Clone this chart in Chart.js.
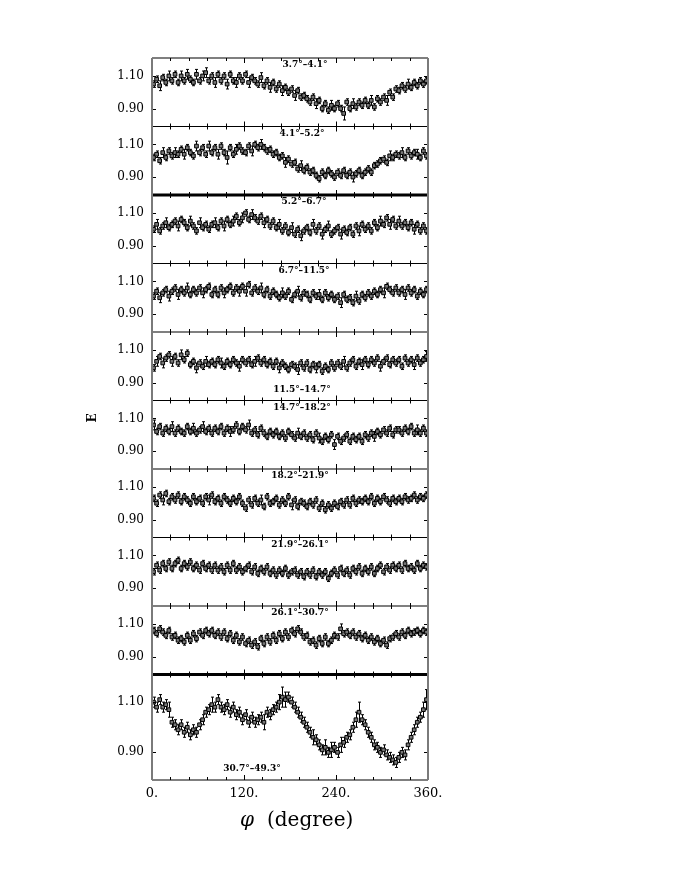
<!DOCTYPE html>
<html>
<head>
<meta charset="utf-8">
<script src="https://cdn.jsdelivr.net/npm/chart.js@4.4.1/dist/chart.umd.min.js"></script>
<style>
  html, body { margin: 0; padding: 0; background: #fff; }
  #wrap { width: 692px; height: 896px; }
</style>
</head>
<body>
<div id="wrap"><canvas id="phiChart" width="692" height="896"></canvas></div>
<script>
// bin centres in phi (degree)
const phi = [
  2,6,10,14,18,22,26,30,34,38,
  42,46,50,54,58,62,66,70,74,78,
  82,86,90,94,98,102,106,110,114,118,
  122,126,130,134,138,142,146,150,154,158,
  162,166,170,174,178,182,186,190,194,198,
  202,206,210,214,218,222,226,230,234,238,
  242,246,250,254,258,262,266,270,274,278,
  282,286,290,294,298,302,306,310,314,318,
  322,326,330,334,338,342,346,350,354,358
];

const panelLabels = ['3.7°–4.1°','4.1°–5.2°','5.2°–6.7°','6.7°–11.5°','11.5°–14.7°',
                     '14.7°–18.2°','18.2°–21.9°','21.9°–26.1°','26.1°–30.7°','30.7°–49.3°'];

const yTicks = [0.90, 1.10];
const xTicks = [0, 120, 240, 360];
const xTickLabels = ['0.', '120.', '240.', '360.'];

// E per bin, one array per theta range
const E1 = [
  1.05,1.08,1.04,1.09,1.06,1.10,1.07,1.11,1.06,1.10,
  1.07,1.11,1.08,1.06,1.11,1.07,1.10,1.12,1.07,1.10,
  1.06,1.11,1.07,1.10,1.05,1.11,1.07,1.06,1.10,1.07,
  1.11,1.06,1.09,1.07,1.05,1.09,1.04,1.07,1.03,1.06,
  1.02,1.05,1.01,1.03,1.00,1.02,0.98,1.01,0.97,0.98,
  0.96,0.94,0.97,0.93,0.95,0.90,0.93,0.89,0.92,0.90,
  0.93,0.90,0.87,0.94,0.90,0.93,0.91,0.94,0.92,0.95,
  0.92,0.95,0.91,0.96,0.94,0.97,0.95,1.00,0.97,1.02,
  1.01,1.04,1.02,1.05,1.03,1.06,1.04,1.07,1.05,1.07
];
const E2 = [
  1.02,1.04,1.00,1.05,1.02,1.06,1.03,1.05,1.04,1.07,
  1.04,1.08,1.05,1.03,1.09,1.05,1.08,1.04,1.09,1.05,
  1.08,1.04,1.09,1.05,1.02,1.08,1.04,1.07,1.09,1.06,
  1.05,1.09,1.06,1.10,1.08,1.10,1.08,1.06,1.07,1.04,
  1.05,1.02,1.03,0.99,1.01,0.98,0.99,0.95,0.97,0.94,
  0.96,0.93,0.94,0.91,0.89,0.93,0.91,0.94,0.92,0.90,
  0.93,0.91,0.94,0.91,0.93,0.90,0.92,0.94,0.91,0.93,
  0.95,0.93,0.97,0.98,1.00,1.01,0.99,1.03,1.02,1.04,
  1.03,1.05,1.02,1.06,1.03,1.05,1.04,1.02,1.06,1.03
];
const E3 = [
  1.00,1.03,0.99,1.02,1.04,1.01,1.03,1.05,1.02,1.06,
  1.04,1.01,1.05,1.02,0.99,1.04,1.01,1.03,1.00,1.03,
  1.04,1.01,1.05,1.02,1.06,1.03,1.05,1.08,1.04,1.07,
  1.10,1.06,1.09,1.07,1.05,1.08,1.04,1.06,1.02,1.05,
  1.01,1.03,0.99,1.02,0.98,1.01,0.97,1.00,0.96,0.99,
  1.01,0.98,1.03,0.99,1.02,0.97,1.00,1.02,0.97,0.99,
  1.01,0.97,1.00,0.98,1.01,0.97,1.02,0.99,1.03,1.00,
  1.02,0.99,1.04,1.01,1.05,1.03,1.07,1.03,1.06,1.02,
  1.05,1.02,1.04,1.01,1.04,1.00,1.03,0.99,1.02,0.99
];
const E4 = [
  1.01,1.04,1.00,1.03,1.05,1.01,1.04,1.06,1.02,1.05,
  1.03,1.06,1.02,1.05,1.03,1.06,1.03,1.05,1.07,1.02,
  1.05,1.02,1.06,1.03,1.05,1.07,1.03,1.06,1.04,1.07,
  1.04,1.08,1.03,1.06,1.04,1.06,1.02,1.05,1.01,1.04,
  1.02,1.00,1.03,1.01,1.04,0.99,1.02,1.04,1.00,1.03,
  1.02,0.99,1.03,1.01,1.02,0.99,1.03,1.00,1.02,0.99,
  1.01,0.97,1.02,0.99,1.00,0.97,1.01,0.98,1.02,1.00,
  1.03,1.01,1.04,1.02,1.05,1.03,1.07,1.05,1.03,1.06,
  1.03,1.05,1.02,1.06,1.03,1.05,1.01,1.04,1.02,1.05
];
const E5 = [
  0.99,1.03,1.06,1.02,1.05,1.07,1.03,1.06,1.02,1.07,
  1.04,1.08,1.01,1.03,0.99,1.02,1.00,1.03,1.01,1.03,
  1.01,1.04,1.02,1.00,1.03,1.01,1.04,1.02,1.00,1.04,
  1.02,1.04,1.01,1.03,1.05,1.02,1.04,1.01,1.03,1.00,
  1.03,0.99,1.02,1.00,0.98,1.01,1.00,0.98,1.02,0.99,
  1.02,0.98,1.01,0.99,1.01,0.97,1.00,0.98,1.02,0.99,
  1.02,1.00,1.03,0.99,1.02,1.04,1.00,1.03,1.01,1.04,
  1.01,1.04,1.02,1.05,1.00,1.03,1.05,1.01,1.04,1.02,
  1.04,1.00,1.05,1.02,1.04,1.01,1.05,1.02,1.04,1.06
];
const E6 = [
  1.06,1.02,1.05,1.01,1.04,1.02,1.05,1.01,1.04,1.02,
  1.01,1.05,1.02,1.04,1.01,1.03,1.05,1.02,1.04,1.01,
  1.04,1.02,1.05,1.01,1.04,1.02,1.03,1.06,1.02,1.05,
  1.03,1.06,1.01,1.03,1.00,1.04,1.01,0.99,1.02,1.00,
  1.02,0.99,1.01,0.98,1.02,1.00,0.98,1.01,0.99,1.01,
  0.98,1.00,0.97,1.01,0.98,0.96,0.99,0.97,1.00,0.94,
  0.99,0.96,0.98,1.00,0.96,0.99,0.97,0.99,0.96,1.00,
  0.98,1.01,0.99,1.02,1.00,1.03,1.01,1.04,1.00,1.03,
  1.03,1.01,1.04,1.02,1.05,1.01,1.03,1.01,1.04,1.01
];
const E7 = [
  1.03,1.00,1.05,1.02,1.06,1.01,1.04,1.02,1.05,1.01,
  1.04,1.02,1.00,1.04,1.01,1.03,1.00,1.04,1.02,1.05,
  1.01,1.03,1.00,1.04,1.02,1.00,1.03,1.01,1.04,1.00,
  0.97,1.02,0.99,1.03,1.00,1.02,0.98,1.04,1.00,1.01,
  1.03,0.99,1.02,1.00,1.04,0.99,1.02,0.98,1.01,1.00,
  0.98,1.01,0.99,1.02,0.97,1.00,0.96,0.99,0.97,1.00,
  0.98,1.01,0.99,1.02,0.99,1.03,1.00,1.02,1.01,1.03,
  1.01,1.04,1.00,1.03,1.01,1.04,1.02,1.00,1.03,1.01,
  1.03,1.01,1.04,1.02,1.03,1.05,1.02,1.04,1.03,1.05
];
const E8 = [
  1.00,1.04,1.01,1.05,1.02,1.06,1.02,1.05,1.07,1.02,
  1.05,1.03,1.06,1.02,1.04,1.01,1.05,1.02,1.04,1.01,
  1.04,1.01,1.03,1.00,1.04,1.01,1.05,1.01,1.03,1.00,
  1.02,1.04,1.00,1.03,0.99,1.02,1.00,1.03,0.99,1.01,
  0.98,1.01,0.99,1.02,0.98,1.00,1.01,0.98,1.00,0.97,
  1.00,0.98,1.01,0.97,1.00,0.98,1.00,0.96,0.99,1.01,
  0.98,1.02,0.99,1.01,0.98,1.02,1.00,1.03,0.99,1.02,
  1.00,1.03,0.99,1.02,1.04,1.00,1.03,1.01,1.04,1.02,
  1.04,1.01,1.05,1.02,1.03,1.01,1.05,1.02,1.04,1.03
];
const E9 = [
  1.06,1.04,1.07,1.05,1.03,1.06,1.02,1.03,1.00,1.01,
  0.99,1.03,1.00,1.04,1.01,1.05,1.03,1.06,1.04,1.06,
  1.03,1.05,1.02,1.05,1.01,1.04,1.00,1.03,0.99,1.02,
  0.98,1.00,0.97,0.99,0.96,1.01,0.98,1.02,0.99,1.03,
  1.00,1.04,1.01,1.05,1.02,1.06,1.04,1.07,1.05,1.02,
  1.03,0.99,1.00,0.97,1.01,0.98,1.02,0.98,1.00,1.03,
  1.02,1.07,1.04,1.05,1.03,1.05,1.02,1.04,1.01,1.03,
  1.00,1.02,0.99,1.01,0.98,1.00,0.97,1.01,1.02,1.04,
  1.02,1.05,1.03,1.06,1.04,1.05,1.06,1.04,1.06,1.05
];
const E10 = [
  1.10,1.08,1.11,1.08,1.09,1.07,1.02,1.01,0.99,1.01,
  0.98,1.00,0.97,0.99,0.98,1.01,1.03,1.06,1.07,1.09,
  1.08,1.11,1.08,1.07,1.09,1.06,1.08,1.05,1.06,1.03,
  1.05,1.02,1.04,1.02,1.03,1.04,1.02,1.06,1.05,1.07,
  1.08,1.10,1.12,1.11,1.12,1.10,1.08,1.06,1.04,1.02,
  1.00,0.98,0.96,0.95,0.93,0.91,0.92,0.90,0.91,0.92,
  0.90,0.93,0.94,0.96,0.97,1.00,1.03,1.06,1.03,1.01,
  0.98,0.96,0.93,0.92,0.90,0.91,0.89,0.88,0.87,0.86,
  0.88,0.90,0.89,0.93,0.96,0.99,1.02,1.04,1.07,1.11
];

// statistical errors per bin
const dE1 = [
  0.02,0.02,0.03,0.02,0.02,0.03,0.02,0.02,0.02,0.03,
  0.02,0.03,0.02,0.02,0.03,0.02,0.03,0.03,0.02,0.02,
  0.03,0.02,0.02,0.02,0.03,0.02,0.02,0.03,0.02,0.02,
  0.02,0.03,0.02,0.02,0.02,0.03,0.02,0.02,0.03,0.02,
  0.02,0.02,0.03,0.02,0.02,0.02,0.03,0.02,0.02,0.02,
  0.02,0.02,0.02,0.03,0.02,0.02,0.02,0.02,0.03,0.02,
  0.02,0.02,0.04,0.02,0.02,0.03,0.02,0.02,0.02,0.02,
  0.02,0.03,0.02,0.02,0.02,0.02,0.03,0.02,0.02,0.02,
  0.02,0.02,0.02,0.03,0.02,0.02,0.02,0.02,0.02,0.02
];
const dE2 = [
  0.02,0.02,0.02,0.03,0.02,0.02,0.02,0.03,0.02,0.02,
  0.03,0.02,0.02,0.02,0.03,0.02,0.02,0.02,0.03,0.02,
  0.02,0.03,0.02,0.02,0.04,0.02,0.02,0.03,0.02,0.02,
  0.02,0.02,0.03,0.02,0.02,0.03,0.02,0.02,0.02,0.02,
  0.02,0.02,0.02,0.03,0.02,0.02,0.02,0.02,0.03,0.02,
  0.02,0.02,0.02,0.02,0.02,0.02,0.02,0.02,0.02,0.02,
  0.02,0.02,0.02,0.02,0.02,0.03,0.02,0.02,0.02,0.02,
  0.02,0.02,0.02,0.02,0.02,0.02,0.02,0.03,0.02,0.02,
  0.02,0.03,0.02,0.02,0.02,0.02,0.03,0.02,0.02,0.02
];
const dE3 = [
  0.02,0.03,0.02,0.02,0.03,0.02,0.02,0.02,0.03,0.02,
  0.02,0.02,0.03,0.02,0.02,0.03,0.02,0.02,0.02,0.02,
  0.03,0.02,0.02,0.03,0.02,0.02,0.03,0.02,0.02,0.03,
  0.02,0.02,0.03,0.02,0.02,0.02,0.03,0.02,0.02,0.02,
  0.02,0.03,0.02,0.02,0.02,0.03,0.02,0.02,0.03,0.02,
  0.02,0.02,0.03,0.02,0.02,0.03,0.02,0.03,0.02,0.02,
  0.02,0.03,0.02,0.02,0.02,0.02,0.02,0.03,0.02,0.02,
  0.02,0.02,0.02,0.02,0.03,0.02,0.02,0.03,0.02,0.02,
  0.03,0.02,0.02,0.02,0.02,0.03,0.02,0.02,0.02,0.02
];
const dE4 = [
  0.02,0.02,0.03,0.02,0.02,0.03,0.02,0.02,0.03,0.02,
  0.02,0.03,0.02,0.02,0.02,0.02,0.03,0.02,0.02,0.02,
  0.02,0.02,0.02,0.03,0.02,0.02,0.02,0.02,0.03,0.02,
  0.03,0.02,0.02,0.02,0.02,0.03,0.02,0.02,0.02,0.02,
  0.02,0.02,0.03,0.02,0.02,0.02,0.02,0.03,0.02,0.02,
  0.02,0.02,0.02,0.02,0.03,0.02,0.02,0.02,0.02,0.02,
  0.02,0.03,0.02,0.02,0.02,0.02,0.03,0.02,0.02,0.02,
  0.02,0.02,0.02,0.02,0.02,0.03,0.02,0.02,0.02,0.02,
  0.02,0.02,0.03,0.02,0.02,0.02,0.02,0.02,0.02,0.02
];
const dE5 = [
  0.02,0.03,0.02,0.03,0.02,0.02,0.03,0.02,0.02,0.03,
  0.02,0.02,0.02,0.02,0.03,0.02,0.02,0.03,0.02,0.02,
  0.02,0.02,0.03,0.02,0.02,0.02,0.02,0.02,0.03,0.02,
  0.02,0.02,0.02,0.03,0.02,0.02,0.02,0.02,0.02,0.02,
  0.02,0.03,0.02,0.02,0.02,0.02,0.02,0.03,0.02,0.02,
  0.02,0.02,0.02,0.03,0.02,0.02,0.02,0.02,0.02,0.02,
  0.02,0.02,0.03,0.02,0.02,0.02,0.02,0.02,0.03,0.02,
  0.02,0.02,0.02,0.02,0.03,0.02,0.02,0.02,0.02,0.02,
  0.02,0.02,0.02,0.02,0.02,0.03,0.02,0.02,0.02,0.03
];
const dE6 = [
  0.03,0.02,0.02,0.02,0.02,0.02,0.03,0.02,0.02,0.02,
  0.02,0.02,0.02,0.03,0.02,0.02,0.03,0.02,0.02,0.02,
  0.02,0.02,0.02,0.02,0.02,0.03,0.02,0.02,0.02,0.02,
  0.02,0.03,0.02,0.02,0.02,0.02,0.02,0.02,0.02,0.02,
  0.02,0.02,0.02,0.02,0.02,0.02,0.02,0.03,0.02,0.02,
  0.02,0.02,0.02,0.02,0.03,0.02,0.02,0.02,0.02,0.03,
  0.02,0.02,0.02,0.02,0.02,0.02,0.02,0.02,0.02,0.02,
  0.02,0.02,0.03,0.02,0.02,0.02,0.02,0.02,0.02,0.02,
  0.02,0.02,0.02,0.02,0.02,0.02,0.03,0.02,0.02,0.02
];
const dE7 = [
  0.02,0.02,0.02,0.03,0.02,0.02,0.02,0.02,0.02,0.02,
  0.02,0.02,0.02,0.02,0.02,0.02,0.02,0.02,0.03,0.02,
  0.02,0.02,0.02,0.02,0.02,0.02,0.02,0.02,0.02,0.02,
  0.02,0.02,0.02,0.02,0.02,0.03,0.02,0.02,0.02,0.02,
  0.02,0.02,0.02,0.02,0.02,0.03,0.02,0.02,0.02,0.02,
  0.02,0.02,0.02,0.02,0.02,0.02,0.02,0.02,0.02,0.02,
  0.02,0.02,0.02,0.02,0.02,0.02,0.02,0.02,0.02,0.02,
  0.02,0.02,0.02,0.02,0.02,0.02,0.02,0.02,0.02,0.02,
  0.02,0.02,0.02,0.02,0.02,0.02,0.02,0.02,0.02,0.02
];
const dE8 = [
  0.02,0.02,0.02,0.02,0.02,0.02,0.02,0.02,0.02,0.02,
  0.02,0.02,0.02,0.02,0.02,0.02,0.02,0.02,0.02,0.02,
  0.02,0.02,0.02,0.02,0.02,0.02,0.02,0.02,0.02,0.02,
  0.02,0.02,0.02,0.02,0.02,0.02,0.02,0.02,0.02,0.02,
  0.02,0.02,0.02,0.02,0.02,0.02,0.02,0.02,0.02,0.02,
  0.02,0.02,0.02,0.02,0.02,0.02,0.02,0.02,0.02,0.02,
  0.02,0.02,0.02,0.02,0.02,0.02,0.02,0.02,0.02,0.02,
  0.02,0.02,0.02,0.02,0.02,0.02,0.02,0.02,0.02,0.02,
  0.02,0.02,0.02,0.02,0.02,0.02,0.02,0.02,0.02,0.02
];
const dE9 = [
  0.02,0.02,0.02,0.02,0.02,0.02,0.02,0.02,0.02,0.02,
  0.02,0.02,0.02,0.02,0.02,0.02,0.02,0.02,0.02,0.02,
  0.02,0.02,0.02,0.02,0.02,0.02,0.02,0.02,0.02,0.02,
  0.02,0.02,0.02,0.02,0.02,0.02,0.02,0.02,0.02,0.02,
  0.02,0.02,0.02,0.02,0.02,0.02,0.02,0.02,0.02,0.02,
  0.02,0.02,0.02,0.02,0.02,0.02,0.02,0.02,0.02,0.02,
  0.02,0.03,0.02,0.02,0.02,0.02,0.02,0.02,0.02,0.02,
  0.02,0.02,0.02,0.02,0.02,0.02,0.02,0.02,0.02,0.02,
  0.02,0.02,0.02,0.02,0.02,0.02,0.02,0.02,0.02,0.02
];
const dE10 = [
  0.02,0.02,0.02,0.02,0.02,0.03,0.02,0.02,0.02,0.02,
  0.02,0.02,0.02,0.02,0.02,0.02,0.02,0.02,0.02,0.03,
  0.02,0.02,0.02,0.02,0.02,0.02,0.02,0.02,0.02,0.02,
  0.02,0.02,0.02,0.02,0.02,0.02,0.03,0.02,0.02,0.02,
  0.02,0.03,0.04,0.03,0.02,0.02,0.02,0.02,0.02,0.02,
  0.02,0.02,0.03,0.02,0.02,0.02,0.03,0.02,0.03,0.02,
  0.02,0.03,0.02,0.02,0.02,0.02,0.03,0.04,0.02,0.02,
  0.02,0.02,0.02,0.02,0.02,0.02,0.02,0.02,0.02,0.02,
  0.02,0.02,0.02,0.02,0.02,0.02,0.02,0.02,0.03,0.04
];

const panelE  = [E1, E2, E3, E4, E5, E6, E7, E8, E9, E10];
const panelDE = [dE1, dE2, dE3, dE4, dE5, dE6, dE7, dE8, dE9, dE10];

const yMin = 0.79, yMax = 1.21;
const serif = '"DejaVu Serif", "Liberation Serif", serif';

// where each panel's range label sits: [x centre, 'top' | 'bottom']
const labelPos = [[305,'top'],[302,'top'],[304,'top'],[304,'top'],[302,'bottom'],
                  [302,'top'],[300,'top'],[300,'top'],[300,'top'],[252,'bottom']];

const datasets = panelE.map((vals, k) => ({
  label: panelLabels[k],
  yAxisID: 'y' + k,
  xAxisID: 'x',
  data: vals.map((v, i) => ({ x: phi[i], y: v })),
  errors: panelDE[k],
  showLine: false,
  pointStyle: 'rect',
  pointRadius: 2.6,
  borderWidth: 1,
  borderColor: '#000',
  backgroundColor: '#777'
}));

function yAxis(k) {
  return {
    type: 'linear',
    position: 'left',
    stack: 'panels',
    stackWeight: k === 9 ? 1.54 : 1,
    weight: 10 - k,
    min: yMin,
    max: yMax,
    grid: { display: false, drawTicks: false },
    border: { display: false },
    afterBuildTicks: s => { s.ticks = yTicks.map(v => ({ value: v })); },
    afterFit: s => { s.width = 152; },
    ticks: {
      padding: 8,
      color: '#000',
      font: { family: serif, size: 12 },
      callback: v => v.toFixed(2)
    }
  };
}

const scales = {
  x: {
    type: 'linear',
    position: 'bottom',
    min: 0,
    max: 360,
    grid: { display: false, drawTicks: false },
    border: { display: false },
    afterBuildTicks: s => { s.ticks = xTicks.map(v => ({ value: v })); },
    afterFit: s => { s.height = 40; },
    ticks: {
      padding: 6,
      autoSkip: false,
      maxRotation: 0,
      color: '#000',
      font: { family: serif, size: 13 },
      callback: v => xTickLabels[xTicks.indexOf(v)]
    }
  }
};
for (let k = 0; k < 10; k++) scales['y' + k] = yAxis(k);

// error bars, panel frames, tick marks and texts
const panelDecor = {
  id: 'panelDecor',
  beforeDatasetsDraw(chart) {
    const ctx = chart.ctx;
    ctx.save();
    ctx.strokeStyle = '#000';
    ctx.lineWidth = 1;
    chart.data.datasets.forEach((ds, di) => {
      const meta = chart.getDatasetMeta(di);
      const ys = chart.scales[ds.yAxisID];
      ctx.beginPath();
      meta.data.forEach((pt, i) => {
        const v = ds.data[i].y, e = ds.errors[i];
        const t = ys.getPixelForValue(v + e), b = ys.getPixelForValue(v - e);
        const x = Math.round(pt.x) + 0.5;
        ctx.moveTo(x, t); ctx.lineTo(x, b);
        ctx.moveTo(x - 1.5, t); ctx.lineTo(x + 1.5, t);
        ctx.moveTo(x - 1.5, b); ctx.lineTo(x + 1.5, b);
      });
      ctx.stroke();
    });
    ctx.restore();
  },
  afterDatasetsDraw(chart) {
    const ctx = chart.ctx, xs = chart.scales.x, area = chart.chartArea;
    const L = area.left, R = area.right;
    ctx.save();

    for (let k = 0; k < 10; k++) {
      const ys = chart.scales['y' + k];
      // horizontal boundary on top of each panel
      ctx.strokeStyle = '#000';
      ctx.lineWidth = (k === 2 || k === 9) ? 3 : 1.2;
      ctx.beginPath();
      ctx.moveTo(L, ys.top); ctx.lineTo(R, ys.top);
      ctx.stroke();

      // inward ticks on left and right at the labelled E values
      ctx.lineWidth = 1;
      ctx.beginPath();
      yTicks.forEach(v => {
        const y = Math.round(ys.getPixelForValue(v)) + 0.5;
        ctx.moveTo(L, y); ctx.lineTo(L + 4, y);
        ctx.moveTo(R, y); ctx.lineTo(R - 4, y);
      });
      // phi ticks along the top and bottom of the panel
      for (let p = 0; p <= 360; p += 24) {
        const x = Math.round(xs.getPixelForValue(p)) + 0.5;
        const len = p % 120 === 0 ? 5 : 3;
        ctx.moveTo(x, ys.top); ctx.lineTo(x, ys.top + len);
        ctx.moveTo(x, ys.bottom); ctx.lineTo(x, ys.bottom - len);
      }
      ctx.stroke();

      // range label
      const [lx, where] = labelPos[k];
      ctx.fillStyle = '#000';
      ctx.font = 'bold 9px ' + serif;
      ctx.textAlign = 'center';
      ctx.textBaseline = 'middle';
      const ly = where === 'top' ? ys.top + 7 : ys.bottom - 11;
      ctx.fillText(panelLabels[k], lx, ly);
    }

    // bottom line
    ctx.strokeStyle = '#000';
    ctx.lineWidth = 1.2;
    ctx.beginPath();
    ctx.moveTo(L, area.bottom); ctx.lineTo(R, area.bottom);
    ctx.stroke();

    // left and right frame
    ctx.strokeStyle = '#7a7a7a';
    ctx.lineWidth = 2;
    ctx.beginPath();
    ctx.moveTo(L, area.top); ctx.lineTo(L, area.bottom);
    ctx.moveTo(R, area.top); ctx.lineTo(R, area.bottom);
    ctx.stroke();

    // axis titles
    ctx.fillStyle = '#000';
    ctx.textBaseline = 'middle';
    ctx.textAlign = 'center';
    ctx.font = 'italic 20px ' + serif;
    ctx.fillText('φ', 247, 821);
    ctx.textAlign = 'left';
    ctx.font = '20px ' + serif;
    ctx.fillText('(degree)', 267, 821);

    ctx.save();
    ctx.translate(93, 418);
    ctx.rotate(-Math.PI / 2);
    ctx.textAlign = 'center';
    ctx.font = 'bold 12px ' + serif;
    ctx.fillText('E', 0, 0);
    ctx.restore();

    ctx.restore();
  }
};

new Chart(document.getElementById('phiChart'), {
  type: 'scatter',
  data: { datasets },
  options: {
    responsive: false,
    animation: false,
    devicePixelRatio: 1,
    events: [],
    layout: { padding: { top: 58, right: 264, bottom: 76, left: 0 } },
    plugins: {
      legend: { display: false },
      tooltip: { enabled: false }
    },
    scales
  },
  plugins: [panelDecor]
});
</script>
</body>
</html>
